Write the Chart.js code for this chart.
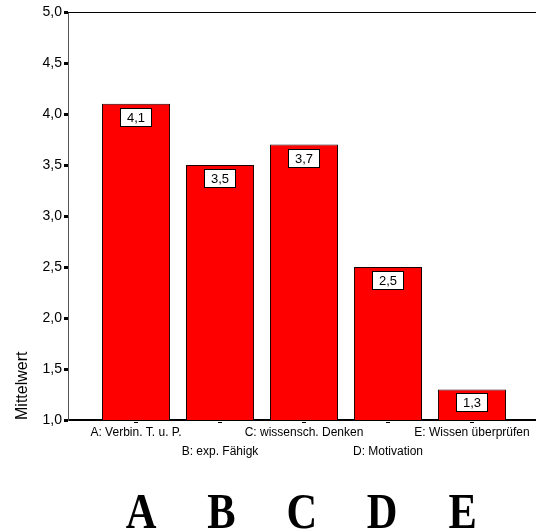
<!DOCTYPE html>
<html>
<head>
<meta charset="utf-8">
<script src="https://cdn.jsdelivr.net/npm/chart.js@4/dist/chart.umd.min.js"></script>
<style>
  html, body { margin: 0; padding: 0; overflow: hidden; background: #fff; }
  canvas { display: block; }
</style>
</head>
<body>
<canvas id="chart" width="540" height="532"></canvas>
<script>
// Mean ratings per item
const categories = ['A: Verbin. T. u. P.', 'B: exp. Fähigk', 'C: wissensch. Denken', 'D: Motivation', 'E: Wissen überprüfen'];
const meanValues = [4.1, 3.5, 3.7, 2.5, 1.3];
const yTickValues = [1.0, 1.5, 2.0, 2.5, 3.0, 3.5, 4.0, 4.5, 5.0];
const groupLetters = ['A', 'B', 'C', 'D', 'E'];

const SANS = '"Liberation Sans", Arial, sans-serif';
const fmt = v => v.toFixed(1).replace('.', ',');

const decorations = {
  id: 'decorations',
  afterDatasetsDraw(chart) {
    const { ctx, chartArea } = chart;
    ctx.save();
    // top frame line
    ctx.strokeStyle = '#000';
    ctx.lineWidth = 1;
    ctx.beginPath();
    ctx.moveTo(chartArea.left, chartArea.top + 0.5);
    ctx.lineTo(chartArea.right, chartArea.top + 0.5);
    ctx.stroke();

    // value boxes inside the bars
    const meta = chart.getDatasetMeta(0);
    ctx.font = '13px ' + SANS;
    meta.data.forEach((bar, i) => {
      const txt = fmt(meanValues[i]);
      const w = Math.round(ctx.measureText(txt).width) + 14;
      const h = 19;
      const x = Math.round(bar.x - w / 2);
      const y = Math.round(bar.y + 4);
      ctx.fillStyle = '#fff';
      ctx.fillRect(x, y, w, h);
      ctx.strokeStyle = '#000';
      ctx.lineWidth = 1;
      ctx.strokeRect(x + 0.5, y + 0.5, w - 1, h - 1);
      ctx.fillStyle = '#000';
      ctx.textAlign = 'center';
      ctx.textBaseline = 'middle';
      ctx.fillText(txt, bar.x, y + h / 2 + 0.5);
    });

    // small dashes below the category axis
    const xs = chart.scales.x;
    ctx.fillStyle = '#000';
    xs.ticks.forEach(t => {
      const px = Math.round(xs.getPixelForValue(t.value));
      ctx.fillRect(px - 2, chartArea.bottom + 2, 4, 1);
    });

    // large group letters underneath
    ctx.font = 'bold 50px "Liberation Serif", "Times New Roman", serif';
    ctx.textAlign = 'center';
    ctx.textBaseline = 'alphabetic';
    groupLetters.forEach((L, i) => {
      ctx.save();
      ctx.translate(141 + 80.4 * i, 528);
      ctx.scale(0.85, 1);
      ctx.fillText(L, 0, 0);
      ctx.restore();
    });
    ctx.restore();
  }
};

new Chart(document.getElementById('chart'), {
  type: 'bar',
  data: {
    datasets: [{
      data: meanValues.map((v, i) => ({ x: i, y: v })),
      backgroundColor: '#ff0000',
      borderColor: '#1a0000',
      borderWidth: 1,
      borderSkipped: false,
      barPercentage: 0.81,
      categoryPercentage: 1
    }]
  },
  options: {
    responsive: false,
    animation: false,
    events: [],
    layout: { padding: { top: 12, right: 0, bottom: 0, left: 0 } },
    plugins: { legend: { display: false }, tooltip: { enabled: false } },
    scales: {
      x: {
        type: 'linear',
        offset: false,
        min: -0.81,
        max: 4.81,
        afterBuildTicks: s => { s.ticks = categories.map((c, i) => ({ value: i })); },
        afterFit: s => { s.height = 112; },
        grid: { display: false, drawTicks: false, offset: false },
        border: { display: true, color: '#000', width: 2 },
        ticks: {
          autoSkip: false,
          maxRotation: 0,
          minRotation: 0,
          padding: 3,
          color: '#000',
          font: { family: SANS, size: 12, lineHeight: 19 / 12 },
          callback: (v, i) => (i % 2 ? ['', categories[i]] : categories[i])
        }
      },
      y: {
        min: 1,
        max: 5,
        afterBuildTicks: s => { s.ticks = yTickValues.map(v => ({ value: v })); },
        afterFit: s => { s.width = 68; },
        grid: { drawOnChartArea: false, drawTicks: true, tickLength: 4, tickWidth: 3, tickColor: '#000' },
        border: { display: true, color: '#555', width: 1 },
        ticks: {
          padding: 2,
          color: '#000',
          font: { family: SANS, size: 14 },
          callback: v => fmt(v)
        },
        title: {
          display: true,
          text: 'Mittelwert',
          align: 'start',
          color: '#000',
          font: { family: SANS, size: 16 },
          padding: { top: 13, bottom: 0 }
        }
      }
    }
  },
  plugins: [decorations]
});
</script>
</body>
</html>
